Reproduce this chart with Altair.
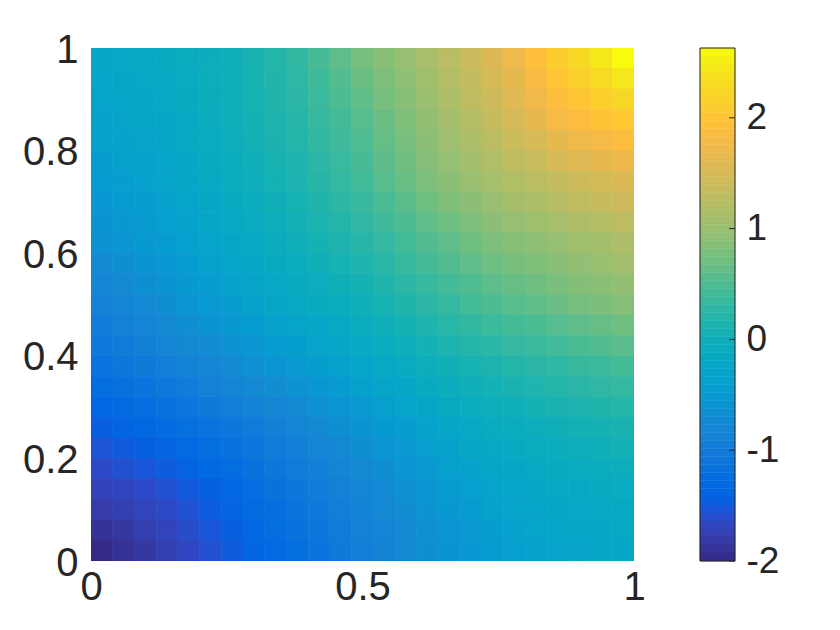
import altair as alt
import numpy as np
import pandas as pd

# Field values, top row (y = 1) first, x from 0 to 1
rows = [
[-.24,-.21,-.17,-.14,-.09,-.05,0,.10,.20,.30,.45,.60,.75,.87,.98,1.10,1.25,1.40,1.55,1.73,1.92,2.10,2.28,2.45,2.63],
[-.27,-.24,-.20,-.17,-.12,-.06,-.01,.08,.18,.27,.41,.54,.68,.80,.93,1.05,1.19,1.34,1.48,1.65,1.83,2.0,2.15,2.29,2.44],
[-.31,-.27,-.23,-.19,-.13,-.07,-.01,.08,.16,.25,.37,.50,.62,.75,.87,1.0,1.14,1.28,1.42,1.58,1.74,1.9,2.01,2.13,2.24],
[-.34,-.30,-.26,-.22,-.15,-.09,-.02,.06,.14,.22,.33,.44,.55,.68,.82,.95,1.08,1.22,1.35,1.50,1.65,1.80,1.88,1.97,2.05],
[-.39,-.34,-.30,-.25,-.18,-.12,-.05,.03,.11,.19,.30,.40,.51,.64,.77,.90,1.02,1.15,1.27,1.40,1.52,1.65,1.73,1.80,1.88],
[-.43,-.38,-.34,-.29,-.22,-.14,-.07,0,.08,.15,.25,.36,.46,.59,.72,.85,.96,1.07,1.18,1.29,1.39,1.50,1.57,1.65,1.72],
[-.48,-.43,-.37,-.32,-.25,-.17,-.10,-.03,.05,.12,.22,.32,.42,.55,.67,.80,.90,1.0,1.10,1.18,1.27,1.35,1.42,1.48,1.55],
[-.53,-.48,-.42,-.37,-.30,-.22,-.15,-.07,0,.08,.17,.26,.35,.47,.59,.71,.81,.90,1.0,1.08,1.15,1.23,1.29,1.36,1.42],
[-.59,-.53,-.47,-.41,-.34,-.26,-.19,-.12,-.04,.03,.12,.20,.29,.40,.50,.61,.71,.80,.90,.97,1.03,1.10,1.16,1.22,1.28],
[-.64,-.58,-.52,-.46,-.39,-.31,-.24,-.16,-.09,-.01,.07,.14,.22,.32,.42,.52,.61,.71,.80,.86,.92,.98,1.04,1.09,1.15],
[-.73,-.66,-.60,-.53,-.45,-.38,-.30,-.22,-.15,-.07,0,.08,.15,.24,.34,.43,.52,.61,.70,.76,.82,.88,.94,.99,1.05],
[-.81,-.74,-.66,-.59,-.51,-.44,-.36,-.28,-.21,-.13,-.06,0,.07,.16,.25,.34,.43,.51,.60,.66,.72,.78,.84,.89,.95],
[-.9,-.82,-.74,-.66,-.58,-.50,-.42,-.35,-.27,-.20,-.13,-.07,0,.08,.17,.25,.33,.42,.50,.56,.62,.68,.74,.79,.85],
[-.99,-.91,-.84,-.76,-.68,-.60,-.52,-.45,-.37,-.30,-.23,-.16,-.09,-.01,.07,.15,.23,.30,.38,.44,.49,.55,.60,.66,.71],
[-1.07,-1.0,-.92,-.85,-.77,-.70,-.62,-.55,-.47,-.40,-.33,-.25,-.18,-.10,-.03,.05,.12,.19,.26,.32,.37,.43,.48,.53,.58],
[-1.16,-1.09,-1.02,-.95,-.87,-.80,-.72,-.65,-.57,-.50,-.42,-.35,-.27,-.20,-.12,-.05,.01,.08,.14,.19,.25,.30,.35,.39,.44],
[-1.26,-1.19,-1.13,-1.06,-.99,-.91,-.84,-.77,-.69,-.62,-.54,-.46,-.38,-.30,-.23,-.15,-.08,-.02,.05,.10,.15,.20,.24,.29,.33],
[-1.35,-1.29,-1.23,-1.17,-1.10,-1.03,-.96,-.88,-.81,-.73,-.65,-.57,-.49,-.41,-.32,-.24,-.17,-.10,-.03,.01,.06,.10,.14,.17,.21],
[-1.45,-1.39,-1.34,-1.28,-1.21,-1.15,-1.08,-1.0,-.93,-.85,-.77,-.68,-.60,-.51,-.43,-.34,-.27,-.19,-.12,-.08,-.04,0,.03,.07,.10],
[-1.54,-1.49,-1.43,-1.38,-1.31,-1.24,-1.17,-1.09,-1.01,-.93,-.84,-.76,-.67,-.58,-.50,-.41,-.34,-.26,-.19,-.15,-.11,-.07,-.04,0,.03],
[-1.63,-1.58,-1.53,-1.48,-1.41,-1.33,-1.26,-1.17,-1.09,-1.0,-.92,-.83,-.75,-.66,-.58,-.49,-.41,-.34,-.26,-.22,-.17,-.13,-.10,-.08,-.05],
[-1.72,-1.67,-1.63,-1.58,-1.50,-1.43,-1.35,-1.26,-1.17,-1.08,-.99,-.91,-.82,-.73,-.65,-.56,-.48,-.41,-.33,-.29,-.24,-.20,-.17,-.15,-.12],
[-1.81,-1.75,-1.70,-1.64,-1.56,-1.47,-1.39,-1.30,-1.22,-1.13,-1.04,-.95,-.86,-.77,-.69,-.60,-.52,-.45,-.37,-.33,-.28,-.24,-.21,-.19,-.16],
[-1.91,-1.84,-1.77,-1.70,-1.61,-1.53,-1.44,-1.35,-1.26,-1.17,-1.08,-1.0,-.91,-.82,-.73,-.64,-.57,-.49,-.42,-.37,-.32,-.27,-.25,-.22,-.20],
[-2,-1.92,-1.84,-1.76,-1.67,-1.57,-1.48,-1.39,-1.31,-1.22,-1.13,-1.04,-.95,-.86,-.77,-.68,-.61,-.53,-.46,-.41,-.36,-.31,-.29,-.26,-.24],
]
x_ticks = [0, 0.5, 1]
y_ticks = [0, 0.2, 0.4, 0.6, 0.8, 1]
bar_ticks = [-2, -1, 0, 1, 2]
parula_rgb = [
(.2081,.1663,.5292),(.2116,.1898,.5777),(.2123,.2138,.6270),(.2081,.2386,.6771),
(.1959,.2645,.7279),(.1707,.2919,.7792),(.1253,.3242,.8303),(.0591,.3598,.8683),
(.0117,.3875,.8820),(.0060,.4086,.8828),(.0165,.4266,.8786),(.0329,.4430,.8720),
(.0498,.4586,.8641),(.0629,.4737,.8554),(.0723,.4887,.8467),(.0779,.5040,.8384),
(.0793,.5200,.8312),(.0749,.5375,.8263),(.0641,.5570,.8240),(.0488,.5772,.8228),
(.0343,.5966,.8199),(.0265,.6137,.8135),(.0239,.6287,.8038),(.0231,.6418,.7913),
(.0228,.6535,.7768),(.0267,.6642,.7607),(.0384,.6743,.7436),(.0590,.6838,.7254),
(.0843,.6928,.7062),(.1133,.7015,.6859),(.1453,.7098,.6646),(.1801,.7177,.6424),
(.2178,.7250,.6193),(.2586,.7317,.5954),(.3022,.7376,.5712),(.3482,.7424,.5473),
(.3953,.7459,.5244),(.4420,.7481,.5033),(.4871,.7491,.4840),(.5300,.7491,.4661),
(.5709,.7485,.4494),(.6099,.7473,.4337),(.6473,.7456,.4188),(.6834,.7435,.4044),
(.7184,.7411,.3905),(.7525,.7384,.3768),(.7858,.7356,.3633),(.8185,.7327,.3498),
(.8507,.7299,.3360),(.8824,.7274,.3217),(.9139,.7258,.3063),(.9450,.7261,.2886),
(.9739,.7314,.2666),(.9938,.7455,.2403),(.9990,.7653,.2164),(.9955,.7861,.1967),
(.9880,.8066,.1794),(.9789,.8271,.1633),(.9697,.8481,.1475),(.9626,.8705,.1309),
(.9589,.8949,.1132),(.9598,.9218,.0948),(.9661,.9514,.0755),(.9763,.9831,.0538),
]
parula = ["#%02x%02x%02x" % tuple(int(round(c * 255)) for c in rgb) for rgb in parula_rgb]
vmin, vmax = -2, 2.63
INK = "#262626"
FONT = "Liberation Sans"

n = len(rows)
records = []
for r, row in enumerate(rows):
    for c, v in enumerate(row):
        records.append({"x0": c / n, "x1": (c + 1) / n,
                        "y0": 1 - (r + 1) / n, "y1": 1 - r / n, "v": v})
field = pd.DataFrame(records)

color = alt.Scale(domain=list(np.linspace(vmin, vmax, len(parula))), range=parula, interpolate="rgb")

heat = alt.Chart(field).mark_rect(strokeWidth=0.7, clip=True).encode(
    x=alt.X("x0:Q", scale=alt.Scale(domain=[0, 1], nice=False),
            axis=alt.Axis(values=x_ticks, format="~g", title=None, grid=False, domain=False,
                          ticks=False, labelFontSize=40, labelColor=INK, labelFont=FONT,
                          labelPadding=6, labelFlush=False)),
    x2="x1:Q",
    y=alt.Y("y0:Q", scale=alt.Scale(domain=[0, 1], nice=False),
            axis=alt.Axis(values=y_ticks, format="~g", title=None, grid=False, domain=False,
                          ticks=False, labelFontSize=40, labelColor=INK, labelFont=FONT,
                          labelPadding=13, labelFlush=False, labelOffset=2,
                          minExtent=83, maxExtent=83)),
    y2="y1:Q",
    color=alt.Color("v:Q", scale=color, legend=None),
    stroke=alt.Color("v:Q", scale=color, legend=None),
).properties(width=543, height=513, view=alt.ViewConfig(strokeWidth=0))

levels = np.linspace(vmin, vmax, 65)
bar_df = pd.DataFrame({"a": levels[:-1], "b": levels[1:], "v": (levels[:-1] + levels[1:]) / 2})
bar_y = alt.Scale(domain=[vmin, vmax], nice=False)
bar_axis = alt.Axis(values=bar_ticks, orient="right", title=None, grid=False, domain=False,
                    ticks=False, labelFontSize=37, labelColor=INK, labelFont=FONT,
                    labelPadding=11, labelFlush=False, labelExpr="'' + datum.value")

bar = alt.Chart(bar_df).mark_rect(strokeWidth=0.5).encode(
    y=alt.Y("a:Q", scale=bar_y, axis=bar_axis),
    y2="b:Q",
    color=alt.Color("v:Q", scale=color, legend=None),
    stroke=alt.Color("v:Q", scale=color, legend=None),
)
bar_tick = alt.Chart(pd.DataFrame({"t": bar_ticks})).mark_rule(color=INK, strokeWidth=1).encode(
    y=alt.Y("t:Q", scale=bar_y, axis=bar_axis),
    x=alt.value(29),
    x2=alt.value(35),
)
bar_box = alt.Chart(pd.DataFrame({"k": [0]})).mark_rect(fillOpacity=0, stroke=INK, strokeWidth=1).encode(
    x=alt.value(0), x2=alt.value(35), y=alt.value(0), y2=alt.value(513),
)
colorbar = alt.layer(bar, bar_tick, bar_box).properties(
    width=35, height=513, view=alt.ViewConfig(strokeWidth=0))

chart = alt.hconcat(heat, colorbar, spacing=66, bounds="flush").properties(
    padding={"left": 0, "top": 22, "right": 0, "bottom": 0},
    background="white",
)
chart.save("out.html", embed_options={"renderer": "svg", "actions": False})
